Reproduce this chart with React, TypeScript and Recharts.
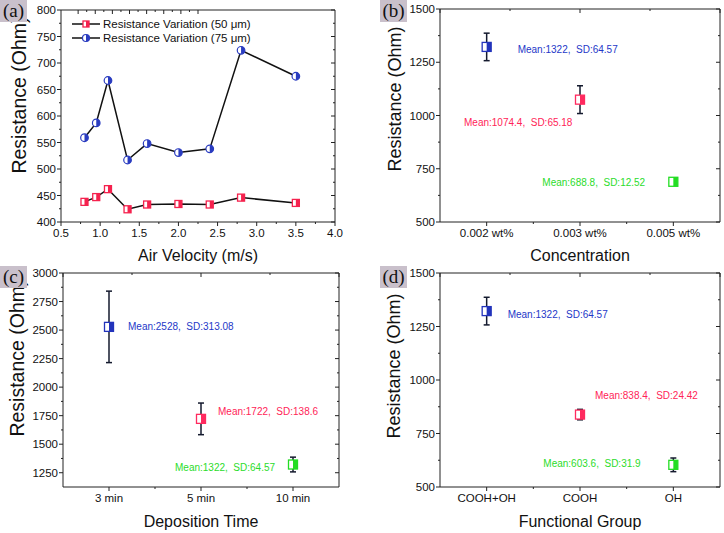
import React from 'react';
import { ComposedChart, Line, Scatter, XAxis, YAxis, ErrorBar } from 'recharts';

// ---------- data ----------
const velocity = [0.8, 0.95, 1.1, 1.35, 1.6, 2.0, 2.4, 2.8, 3.5];
const res50 = [438, 447, 462, 424, 433, 434, 433, 446, 436];
const res75 = [559, 587, 667, 517, 548, 531, 538, 724, 675];
const seriesNames = ['Resistance Variation (50 μm)', 'Resistance Variation (75 μm)'];

const concentration = ['0.002 wt%', '0.003 wt%', '0.005 wt%'];
const concMean = [1322, 1074.4, 688.8];
const concSD = [64.57, 65.18, 12.52];

const depTime = ['3 min', '5 min', '10 min'];
const depMean = [2528, 1722, 1322];
const depSD = [313.08, 138.6, 64.57];

const groups = ['COOH+OH', 'COOH', 'OH'];
const groupMean = [1322, 838.4, 603.6];
const groupSD = [64.57, 24.42, 31.9];

const velTicks = [0.5, 1.0, 1.5, 2.0, 2.5, 3.0, 3.5, 4.0];
const velMinor = [0.75, 1.25, 1.75, 2.25, 2.75, 3.25, 3.75];
const resTicksA = [400, 450, 500, 550, 600, 650, 700, 750, 800];
const resMinorA = [425, 475, 525, 575, 625, 675, 725, 775];
const resTicks500 = [500, 750, 1000, 1250, 1500];
const resMinor500 = [625, 875, 1125, 1375];
const resTicksC = [1250, 1500, 1750, 2000, 2250, 2500, 2750, 3000];
const resMinorC = [1375, 1625, 1875, 2125, 2375, 2625, 2875];

// ---------- styles ----------
const FONT = '"Liberation Sans", Arial, sans-serif';
const AXIS = '#222';
const MARK_COLORS = ['#2233bb', '#ff2a5f', '#22dd22'];
const TEXT_COLORS = ['#2438c8', '#ff2457', '#2bdc2b'];
const RED_A = '#f5224e';
const BLUE_A = '#2a3cc0';

type Side = 'left' | 'bottom' | 'top' | 'right';

function makeTick(side: Side, majors: number[], fmt?: (v: number) => string) {
  return (props: any) => {
    const { x, y, payload } = props;
    const v = Number(payload.value);
    const isMajor = majors.some((m) => Math.abs(m - v) < 1e-6);
    const len = isMajor ? 4 : 2;
    let ln: any = null;
    let tx: any = null;
    const ts = { fontFamily: FONT, fontSize: 11.5, fill: '#111' } as any;
    if (side === 'left') {
      ln = <line x1={x} y1={y} x2={x - len} y2={y} stroke={AXIS} />;
      if (isMajor && fmt) tx = <text x={x - 5} y={y} dy="0.36em" textAnchor="end" style={ts}>{fmt(v)}</text>;
    } else if (side === 'bottom') {
      ln = <line x1={x} y1={y} x2={x} y2={y + len} stroke={AXIS} />;
      if (isMajor && fmt) tx = <text x={x} y={y + 15} textAnchor="middle" style={ts}>{fmt(v)}</text>;
    } else if (side === 'top') {
      ln = <line x1={x} y1={y} x2={x} y2={y + len} stroke={AXIS} />;
    } else {
      ln = <line x1={x} y1={y} x2={x - len} y2={y} stroke={AXIS} />;
    }
    return (
      <g>
        {ln}
        {tx}
      </g>
    );
  };
}

const HalfSquare = ({ cx, cy, color, size }: any) => {
  const h = size / 2;
  return (
    <g>
      <rect x={cx - h} y={cy - h} width={size} height={size} fill="#fff" stroke={color} strokeWidth={1.3} />
      <rect x={cx} y={cy - h} width={h} height={size} fill={color} />
    </g>
  );
};

const HalfCircle = ({ cx, cy, color, r }: any) => (
  <g>
    <circle cx={cx} cy={cy} r={r} fill="#fff" stroke={color} strokeWidth={1.2} />
    <path d={`M${cx},${cy - r} A${r},${r} 0 0 1 ${cx},${cy + r} Z`} fill={color} />
  </g>
);

const XTitle = (text: string, dy: number) => ({
  content: (p: any) => {
    const vb = p.viewBox || {};
    return (
      <text x={vb.x + vb.width / 2} y={vb.y + dy} textAnchor="middle" style={{ fontFamily: FONT, fontSize: 16, fill: '#111' }}>
        {text}
      </text>
    );
  },
});

const YTitle = (text: string, cx: number, cy: number, fs: number) => ({
  content: () => (
    <text
      x={cx}
      y={cy}
      dy="0.36em"
      textAnchor="middle"
      transform={`rotate(-90, ${cx}, ${cy})`}
      style={{ fontFamily: FONT, fontSize: fs, fill: '#111' }}
    >
      {text}
    </text>
  ),
});

const PanelTag = ({ label, left, top }: any) => (
  <div
    style={{
      position: 'absolute',
      left,
      top,
      width: 27,
      height: 22,
      background: '#c9c0cb',
      fontFamily: '"Liberation Serif", "Times New Roman", serif',
      fontSize: 19,
      lineHeight: '22px',
      textAlign: 'center',
      color: '#111',
    }}
  >
    {label}
  </div>
);

// ---------- panel (a) ----------
const rowsA = velocity.map((x, i) => ({ x, r50: res50[i], r75: res75[i] }));

const LegendA = () => (
  <div style={{ position: 'absolute', left: 71, top: 17, fontFamily: FONT, fontSize: 11.5, color: '#111' }}>
    {seriesNames.map((name, k) => (
      <div key={name} style={{ display: 'flex', alignItems: 'center', height: 14 }}>
        <svg width={31} height={12} style={{ display: 'block' }}>
          <line x1={1} y1={6} x2={29} y2={6} stroke="#111" strokeWidth={1.5} />
          {k === 0 ? (
            <HalfSquare cx={15} cy={6} color={RED_A} size={6} />
          ) : (
            <HalfCircle cx={15} cy={6} color={BLUE_A} r={3.5} />
          )}
        </svg>
        <span style={{ whiteSpace: 'nowrap', marginLeft: 1 }}>{name}</span>
      </div>
    ))}
  </div>
);

const PanelA = () => (
  <ComposedChart width={362} height={266} data={rowsA} margin={{ top: 10, right: 27, bottom: 0, left: 0 }}>
    <XAxis
      xAxisId="x"
      dataKey="x"
      type="number"
      domain={[0.5, 4]}
      allowDataOverflow
      ticks={[...velTicks, ...velMinor]}
      interval={0}
      tickSize={0}
      tickMargin={0}
      height={44}
      stroke={AXIS}
      tick={makeTick('bottom', velTicks, (v) => v.toFixed(1))}
      label={XTitle('Air Velocity (m/s)', 39)}
    />
    <XAxis
      xAxisId="xt"
      orientation="top"
      mirror
      type="number"
      domain={[0.5, 4]}
      allowDataOverflow
      ticks={[...velTicks, ...velMinor]}
      interval={0}
      tickSize={0}
      tickMargin={0}
      stroke={AXIS}
      tick={makeTick('top', velTicks)}
    />
    <YAxis
      yAxisId="y"
      type="number"
      domain={[400, 800]}
      allowDataOverflow
      ticks={[...resTicksA, ...resMinorA]}
      interval={0}
      tickSize={0}
      tickMargin={0}
      width={61}
      stroke={AXIS}
      tick={makeTick('left', resTicksA, (v) => String(v))}
      label={YTitle('Resistance (Ohm)', 19, 95, 19.5)}
    />
    <YAxis
      yAxisId="yr"
      orientation="right"
      mirror
      type="number"
      domain={[400, 800]}
      allowDataOverflow
      ticks={[...resTicksA, ...resMinorA]}
      interval={0}
      tickSize={0}
      tickMargin={0}
      stroke={AXIS}
      tick={makeTick('right', resTicksA)}
    />
    <Line
      xAxisId="x"
      yAxisId="y"
      dataKey="r50"
      name={seriesNames[0]}
      stroke="#111"
      strokeWidth={1.5}
      isAnimationActive={false}
      dot={(p: any) => <HalfSquare key={`s${p.index}`} cx={p.cx} cy={p.cy} color={RED_A} size={7} />}
    />
    <Line
      xAxisId="x"
      yAxisId="y"
      dataKey="r75"
      name={seriesNames[1]}
      stroke="#111"
      strokeWidth={1.5}
      isAnimationActive={false}
      dot={(p: any) => <HalfCircle key={`c${p.index}`} cx={p.cx} cy={p.cy} color={BLUE_A} r={3.8} />}
    />
  </ComposedChart>
);

// ---------- error-bar panels ----------
type ErrProps = {
  cats: string[];
  means: number[];
  sds: number[];
  yDomain: [number, number];
  yMajors: number[];
  yMinors: number[];
  xTitle: string;
  xTitleDy: number;
  yTitle: { cx: number; cy: number; fs: number };
  margin: any;
  yWidth: number;
  xHeight: number;
  height: number;
  notes: [number, number][];
};

const ErrPanel = (p: ErrProps) => {
  const rows = p.cats.map((c, i) => ({ i, mean: p.means[i], sd: p.sds[i] }));
  const xt = [0, 0.5, 1, 1.5, 2];
  const shape = (s: any) => {
    const idx = s.payload ? s.payload.i : 0;
    const [dx, dy] = p.notes[idx];
    return (
      <g>
        <HalfSquare cx={s.cx} cy={s.cy} color={MARK_COLORS[idx]} size={9} />
        <text
          x={s.cx + dx}
          y={s.cy + dy}
          dy="0.36em"
          style={{ fontFamily: FONT, fontSize: 10, fill: TEXT_COLORS[idx], whiteSpace: 'pre' } as any}
        >
          {`Mean:${p.means[idx]},  SD:${p.sds[idx]}`}
        </text>
      </g>
    );
  };
  return (
    <ComposedChart width={362} height={p.height} data={rows} margin={p.margin}>
      <XAxis
        xAxisId="x"
        dataKey="i"
        type="number"
        domain={[-0.5, 2.5]}
        allowDataOverflow
        ticks={xt}
        interval={0}
        tickSize={0}
        tickMargin={0}
        height={p.xHeight}
        stroke={AXIS}
        tick={makeTick('bottom', [0, 1, 2], (v) => p.cats[Math.round(v)])}
        label={XTitle(p.xTitle, p.xTitleDy)}
      />
      <XAxis
        xAxisId="xt"
        orientation="top"
        mirror
        type="number"
        domain={[-0.5, 2.5]}
        allowDataOverflow
        ticks={xt}
        interval={0}
        tickSize={0}
        tickMargin={0}
        stroke={AXIS}
        tick={makeTick('top', [0, 1, 2])}
      />
      <YAxis
        yAxisId="y"
        type="number"
        domain={p.yDomain}
        allowDataOverflow
        ticks={[...p.yMajors, ...p.yMinors]}
        interval={0}
        tickSize={0}
        tickMargin={0}
        width={p.yWidth}
        stroke={AXIS}
        tick={makeTick('left', p.yMajors, (v) => String(v))}
        label={YTitle('Resistance (Ohm)', p.yTitle.cx, p.yTitle.cy, p.yTitle.fs)}
      />
      <YAxis
        yAxisId="yr"
        orientation="right"
        mirror
        type="number"
        domain={p.yDomain}
        allowDataOverflow
        ticks={[...p.yMajors, ...p.yMinors]}
        interval={0}
        tickSize={0}
        tickMargin={0}
        stroke={AXIS}
        tick={makeTick('right', p.yMajors)}
      />
      <Scatter xAxisId="x" yAxisId="y" dataKey="mean" isAnimationActive={false} shape={shape}>
        <ErrorBar dataKey="sd" direction="y" width={3} stroke="#141a2e" strokeWidth={1.5} />
      </Scatter>
    </ComposedChart>
  );
};

export default function App() {
  return (
    <div style={{ position: 'absolute', left: 0, top: 0, width: 724, height: 533, background: '#fff', overflow: 'hidden' }}>
      <div style={{ position: 'absolute', left: 0, top: 0, width: 362, height: 266 }}>
        <PanelA />
        <LegendA />
      </div>
      <div style={{ position: 'absolute', left: 362, top: 0 }}>
        <ErrPanel
          cats={concentration}
          means={concMean}
          sds={concSD}
          yDomain={[500, 1500]}
          yMajors={resTicks500}
          yMinors={resMinor500}
          xTitle="Concentration"
          xTitleDy={39}
          yTitle={{ cx: 33, cy: 99, fs: 18 }}
          margin={{ top: 9, right: 4, bottom: 0, left: 0 }}
          yWidth={78}
          xHeight={44}
          height={266}
          notes={[[31, 2], [-116, 23], [-131, 1]]}
        />
      </div>
      <div style={{ position: 'absolute', left: 0, top: 266 }}>
        <ErrPanel
          cats={depTime}
          means={depMean}
          sds={depSD}
          yDomain={[1125, 3000]}
          yMajors={resTicksC}
          yMinors={resMinorC}
          xTitle="Deposition Time"
          xTitleDy={40}
          yTitle={{ cx: 17, cy: 92, fs: 19.5 }}
          margin={{ top: 7, right: 23, bottom: 0, left: 0 }}
          yWidth={63}
          xHeight={46}
          height={267}
          notes={[[19, 0], [17, -7], [-118, 3]]}
        />
      </div>
      <div style={{ position: 'absolute', left: 362, top: 266 }}>
        <ErrPanel
          cats={groups}
          means={groupMean}
          sds={groupSD}
          yDomain={[500, 1500]}
          yMajors={resTicks500}
          yMinors={resMinor500}
          xTitle="Functional Group"
          xTitleDy={40}
          yTitle={{ cx: 32, cy: 100, fs: 18 }}
          margin={{ top: 7, right: 4, bottom: 0, left: 0 }}
          yWidth={78}
          xHeight={46}
          height={267}
          notes={[[21, 3], [15, -19], [-130, -1]]}
        />
      </div>
      <PanelTag label="(a)" left={0} top={0} />
      <PanelTag label="(b)" left={380} top={0} />
      <PanelTag label="(c)" left={0} top={266} />
      <PanelTag label="(d)" left={380} top={266} />
    </div>
  );
}
